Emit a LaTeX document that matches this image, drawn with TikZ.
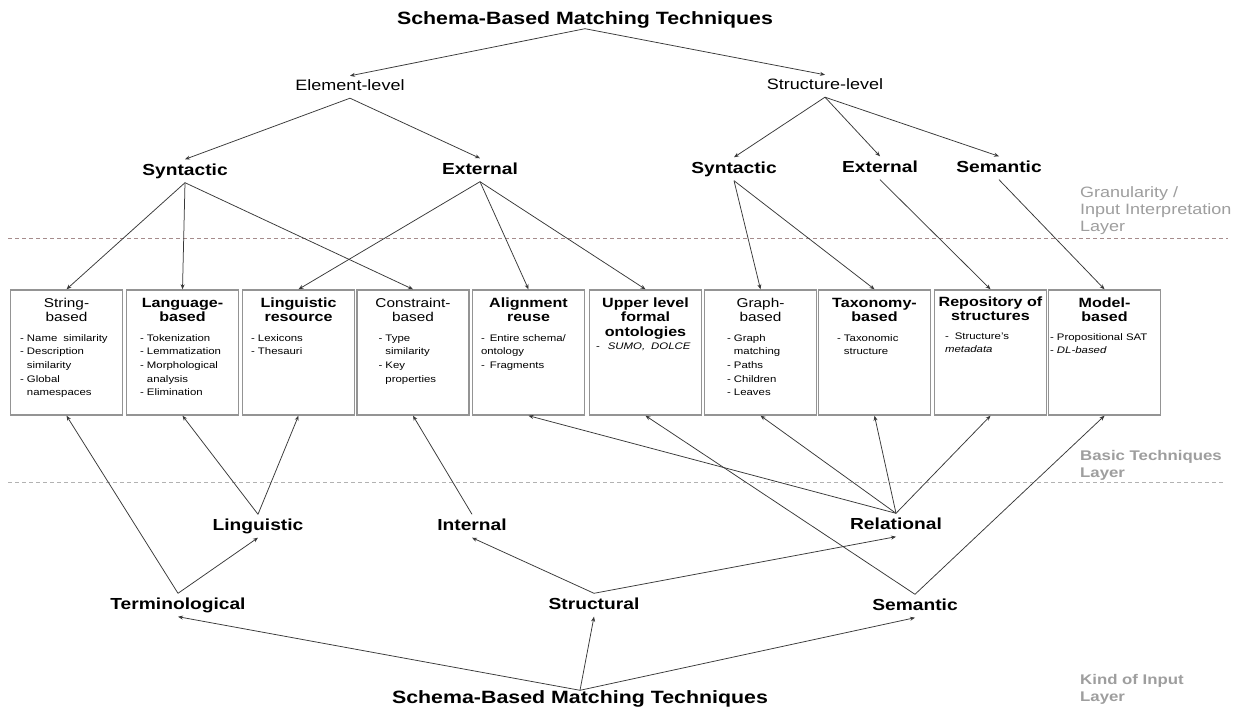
\documentclass[tikz,border=0pt]{standalone}
\usepackage{fontspec}
\setmainfont{Liberation Sans}[FakeStretch=1.2]
\usetikzlibrary{arrows.meta}
\definecolor{sepred}{RGB}{165,140,140}
\begin{document}
\begin{tikzpicture}[x=1pt,y=-1pt,
  conn/.style={draw=black!78,line width=0.75pt,-{Stealth[length=5pt,width=4pt]}},
  sep/.style={dash pattern=on 4pt off 3pt,line width=0.8pt},
  heading/.style={inner sep=0,minimum height=17pt,font=\fontsize{17.8}{20}\selectfont\bfseries,text height=12.8pt,text depth=3.8pt},
  level/.style={inner sep=0,minimum height=22pt,font=\fontsize{15}{17}\selectfont,text height=10.8pt,text depth=3.2pt},
  kind/.style={inner sep=0,minimum height=23pt,font=\fontsize{16}{18}\selectfont\bfseries,text height=11.5pt,text depth=3.4pt},
  techbox/.style={draw=black!42,line width=1.4pt,minimum width=112pt,minimum height=125pt,inner sep=0},
  btitle/.style={anchor=base,inner sep=0,font=\fontsize{13.4}{14.5}\selectfont\bfseries},
  btitlelight/.style={anchor=base,inner sep=0,font=\fontsize{12.8}{14.5}\selectfont},
  blist/.style={anchor=base west,inner sep=0,font=\fontsize{9.5}{13.6}\selectfont},
  layer/.style={anchor=base west,inner sep=0,text=black!38,font=\fontsize{15}{17}\selectfont},
  layerbold/.style={layer,font=\fontsize{14}{17}\selectfont\bfseries}
]
\fill[white] (0,0) rectangle (1245,711);
\path[use as bounding box] (0,0) rectangle (1245,711);

% layer separators
\draw[sep,draw=sepred] (8,238) -- (1228,238);
\draw[sep,draw=black!30] (8,482) -- (1224,482);

% layer names
\node[layer] (lay1) at (1080,198) {\parbox[t]{165pt}{Granularity /\\Input Interpretation\\Layer}};
\node[layerbold] (lay2) at (1080,460) {\parbox[t]{165pt}{Basic Techniques\\Layer}};
\node[layerbold] (lay3) at (1080,684) {\parbox[t]{165pt}{Kind of Input\\Layer}};

% upper classification tree
\node[heading] (top) at (585,20) {Schema-Based Matching Techniques};
\node[level] (el) at (350,87) {Element-level};
\node[level] (sl) at (825,86) {Structure-level};
\node[kind] (synE) at (185,171) {Syntactic};
\node[kind] (extE) at (480,170) {External};
\node[kind] (synS) at (734,169) {Syntactic};
\node[kind] (extS) at (880,168) {External};
\node[kind] (semS) at (999,168) {Semantic};

% basic techniques
\node[techbox] (b1) at (66.5,352.5) {};
\node[techbox] (b2) at (182.5,352.5) {};
\node[techbox] (b3) at (298.5,352.5) {};
\node[techbox] (b4) at (413,352.5) {};
\node[techbox] (b5) at (528.5,352.5) {};
\node[techbox] (b6) at (645.5,352.5) {};
\node[techbox] (b7) at (760.5,352.5) {};
\node[techbox] (b8) at (874.5,352.5) {};
\node[techbox] (b9) at (990.5,352.5) {};
\node[techbox] (b10) at (1104.5,352.5) {};

\node[btitlelight] (b1t) at ([shift={(0,18)}]b1.north) {\parbox[t]{110pt}{\centering String-\\based}};
\node[btitle] (b2t) at ([shift={(0,18)}]b2.north) {\parbox[t]{110pt}{\centering Language-\\based}};
\node[btitle] (b3t) at ([shift={(0,18)}]b3.north) {\parbox[t]{110pt}{\centering Linguistic\\resource}};
\node[btitlelight] (b4t) at ([shift={(0,18)}]b4.north) {\parbox[t]{110pt}{\centering Constraint-\\based}};
\node[btitle] (b5t) at ([shift={(0,18)}]b5.north) {\parbox[t]{110pt}{\centering Alignment\\reuse}};
\node[btitle] (b6t) at ([shift={(0,18)}]b6.north) {\parbox[t]{110pt}{\centering Upper level\\formal\\ontologies}};
\node[btitlelight] (b7t) at ([shift={(0,18)}]b7.north) {\parbox[t]{110pt}{\centering Graph-\\based}};
\node[btitle] (b8t) at ([shift={(0,18)}]b8.north) {\parbox[t]{110pt}{\centering Taxonomy-\\based}};
\node[btitle] (b9t) at ([shift={(0,17)}]b9.north) {\parbox[t]{110pt}{\centering Repository of\\structures}};
\node[btitle] (b10t) at ([shift={(0,18)}]b10.north) {\parbox[t]{110pt}{\centering Model-\\based}};

\node[blist] (b1l) at ([shift={(10,52)}]b1.north west) {\parbox[t]{104pt}{- Name\hspace{6pt}similarity\\- Description\\\hphantom{- }similarity\\- Global\\\hphantom{- }namespaces}};
\node[blist] (b2l) at ([shift={(14,52)}]b2.north west) {\parbox[t]{100pt}{- Tokenization\\- Lemmatization\\- Morphological\\\hphantom{- }analysis\\- Elimination}};
\node[blist] (b3l) at ([shift={(9,52)}]b3.north west) {\parbox[t]{100pt}{- Lexicons\\- Thesauri}};
\node[blist] (b4l) at ([shift={(22,52)}]b4.north west) {\parbox[t]{90pt}{- Type\\\hphantom{- }similarity\\- Key\\\hphantom{- }properties}};
\node[blist] (b5l) at ([shift={(9,52)}]b5.north west) {\parbox[t]{100pt}{-\hspace{5pt}Entire schema/\\\hspace{9pt}ontology\\-\hspace{5pt}Fragments}};
\node[blist] (b6l) at ([shift={(7,60)}]b6.north west) {\parbox[t]{100pt}{-\hspace{8pt}\textit{SUMO,\hspace{6pt}DOLCE}}};
\node[blist] (b7l) at ([shift={(23,52)}]b7.north west) {\parbox[t]{90pt}{- Graph\\\hphantom{- }matching\\- Paths\\- Children\\- Leaves}};
\node[blist] (b8l) at ([shift={(19,52)}]b8.north west) {\parbox[t]{90pt}{- Taxonomic\\\hphantom{- }structure}};
\node[blist] (b9l) at ([shift={(11,50)}]b9.north west) {\parbox[t]{100pt}{-\hspace{6pt}Structure's\\\hspace{15pt}\textit{metadata}}};
\node[blist] (b10l) at ([shift={(2,51)}]b10.north west) {\parbox[t]{108pt}{- Propositional SAT\\- \textit{DL-based}}};

% kinds of input
\node[kind] (ling) at (258,526) {Linguistic};
\node[kind] (intl) at (472,526) {Internal};
\node[kind] (rel) at (896,525) {Relational};
\node[kind] (term) at (178,605) {Terminological};
\node[kind] (struc) at (594,605) {Structural};
\node[kind] (sem) at (915,606) {Semantic};
\node[heading] (bot) at (580,699) {Schema-Based Matching Techniques};

% granularity tree
\draw[conn] (top.south) -- (el.north);
\draw[conn] (top.south) -- (sl.north);
\draw[conn] (el.south) -- (synE.north);
\draw[conn] (el.south) -- (extE.north);
\draw[conn] (sl.south) -- (synS.north);
\draw[conn] (sl.south) -- (extS.north);
\draw[conn] (sl.south) -- (semS.north);
\draw[conn] (synE.south) -- (b1.north);
\draw[conn] (synE.south) -- (b2.north);
\draw[conn] (synE.south) -- (b4.north);
\draw[conn] (extE.south) -- (b3.north);
\draw[conn] (extE.south) -- (b5.north);
\draw[conn] (extE.south) -- (b6.north);
\draw[conn] (synS.south) -- (b7.north);
\draw[conn] (synS.south) -- (b8.north);
\draw[conn] (extS.south) -- (b9.north);
\draw[conn] (semS.south) -- (b10.north);

% kind-of-input tree
\draw[conn] (bot.north) -- (term.south);
\draw[conn] (bot.north) -- (struc.south);
\draw[conn] (bot.north) -- (sem.south);
\draw[conn] (term.north) -- (ling.south);
\draw[conn] (term.north) -- (b1.south);
\draw[conn] (struc.north) -- (intl.south);
\draw[conn] (struc.north) -- (rel.south);
\draw[conn] (ling.north) -- (b2.south);
\draw[conn] (ling.north) -- (b3.south);
\draw[conn] (intl.north) -- (b4.south);
\draw[conn] (rel.north) -- (b5.south);
\draw[conn] (rel.north) -- (b7.south);
\draw[conn] (rel.north) -- (b8.south);
\draw[conn] (rel.north) -- (b9.south);
\draw[conn] (sem.north) -- (b6.south);
\draw[conn] (sem.north) -- (b10.south);
\end{tikzpicture}
\end{document}
